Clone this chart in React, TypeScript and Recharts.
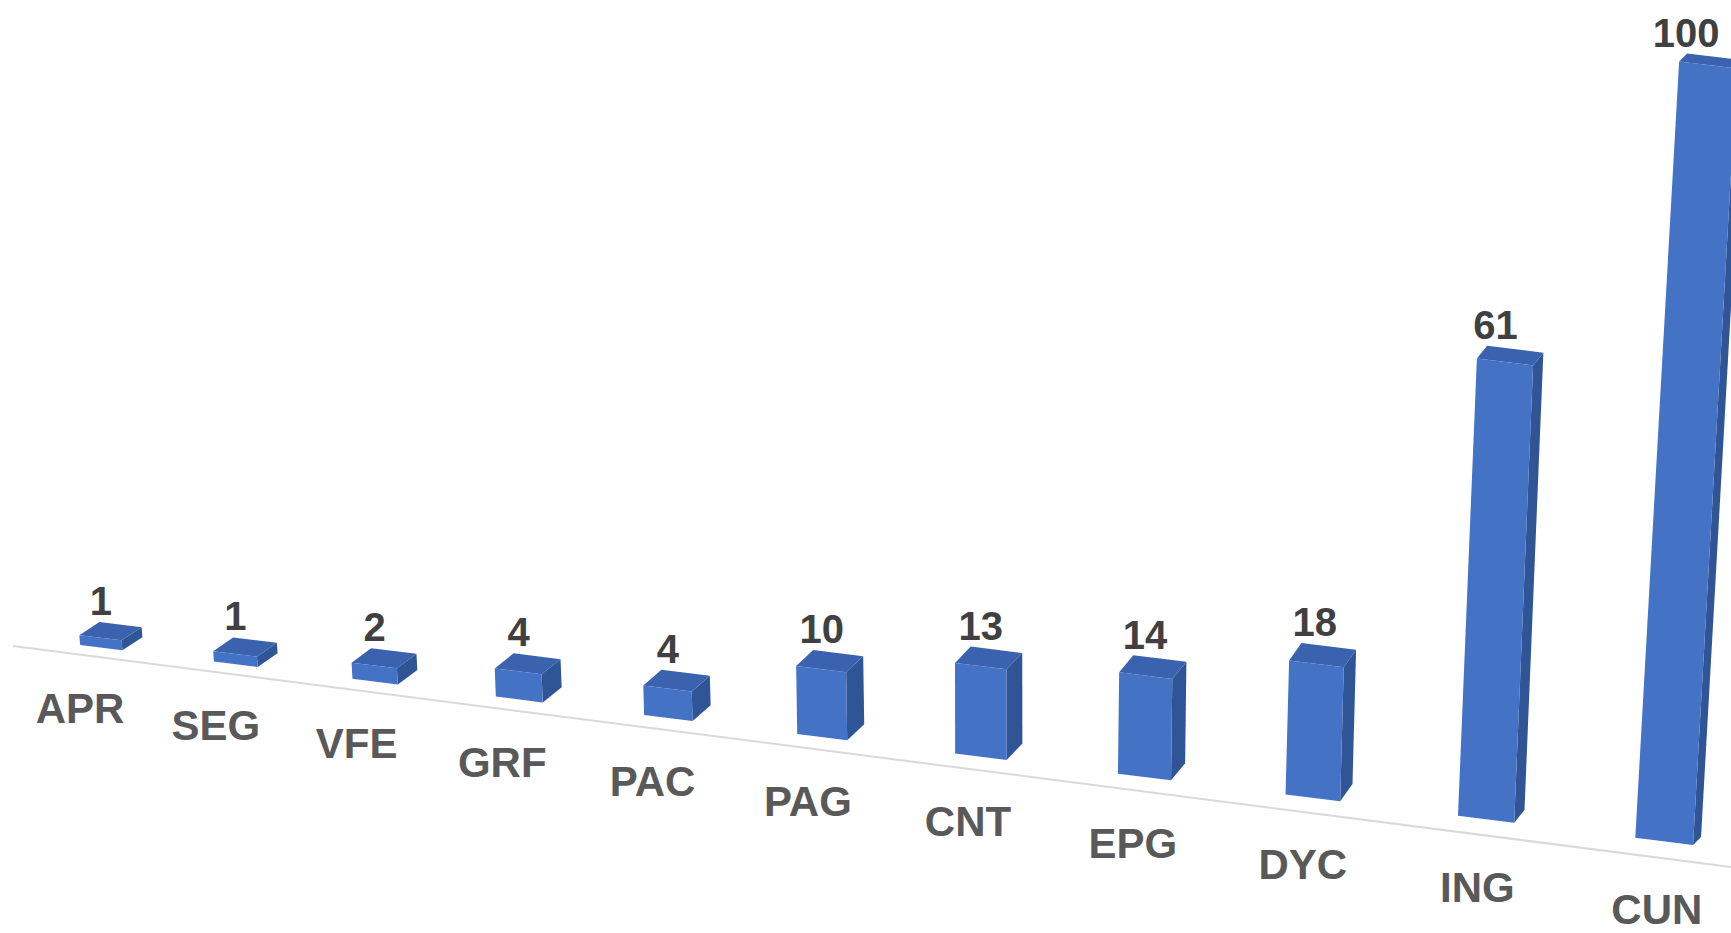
import React from 'react';
import { BarChart, Bar, XAxis, YAxis, LabelList, Customized } from 'recharts';

const categories = ['APR', 'SEG', 'VFE', 'GRF', 'PAC', 'PAG', 'CNT', 'EPG', 'DYC', 'ING', 'CUN'];
const values = [1, 1, 2, 4, 4, 10, 13, 14, 18, 61, 100];

const data = categories.map((name, i) => ({ name, value: values[i] }));

const CHART_W = 1731;
const CHART_H = 933;
const BAND = CHART_W / categories.length;
const FIRST = BAND / 2;
const LAST = CHART_W - BAND / 2;
const FONT = 'Arial, "Liberation Sans", sans-serif';

// fake perspective: bars to the right are nearer, so spaced wider and drawn larger
const project = (cx: number) => {
  const u = (cx - FIRST) / (LAST - FIRST);
  const X = 101 + 1320.8 * u + 242 * u * u;
  const k = (1320.8 + 484 * u) / 1562.8;
  return { u, X, k };
};

// where bars stand on the slanted floor
const floorY = (x: number) => 645 + 0.124 * (x - 80);

const boxGeom = (x: number, width: number, height: number) => {
  const { u, X, k } = project(x + width / 2);
  const w = width * k;
  const H = height * Math.pow(k, 1.5) + 6 * k;
  const xl = X - w / 2;
  const xr = X + w / 2;
  const ybl = floorY(xl);
  const ybr = floorY(xr);
  const tilt = H * (X - 1000) * 8.5e-5;
  const dx = 20 - 12 * u * u;
  const dy = -(6 + 0.015 * (ybl - H)) * k;
  return { u, X, k, H, xl, xr, ybl, ybr, tilt, dx, dy };
};

const pts = (p: number[][]) => p.map(([a, b]) => `${a},${b}`).join(' ');

const Box3D = (props: any) => {
  const { x, width, height } = props;
  if (height == null) return null;
  const g = boxGeom(x, width, height);
  const tl = [g.xl + g.tilt, g.ybl - g.H];
  const tr = [g.xr + g.tilt, g.ybr - g.H];
  const bl = [g.xl, g.ybl];
  const br = [g.xr, g.ybr];
  const top = pts([tl, tr, [tr[0] + g.dx, tr[1] + g.dy], [tl[0] + g.dx, tl[1] + g.dy]]);
  const side = pts([tr, [tr[0] + g.dx, tr[1] + g.dy], [br[0] + g.dx, br[1] + g.dy], br]);
  const front = pts([tl, tr, br, bl]);
  return (
    <g>
      <polygon points={side} fill="#2F5597" />
      <polygon points={top} fill="#3A62AE" />
      <polygon points={front} fill="#4472C4" />
    </g>
  );
};

const ValueLabel = (props: any) => {
  const { x, width, height, value } = props;
  const g = boxGeom(x, width, height);
  const cx = g.X + g.tilt / 2;
  const y = floorY(g.X) - g.H + g.dy - 10;
  return (
    <text x={cx} y={y} textAnchor="middle" fill="#404040" fontSize={40} fontWeight="bold" fontFamily={FONT}>
      {value}
    </text>
  );
};

const CategoryTick = (props: any) => {
  const { x, payload } = props;
  const { u, X } = project(x);
  const lx = X - 21 + 14 * u;
  const ly = floorY(X) + 75 + 8 * u;
  return (
    <text x={lx} y={ly} textAnchor="middle" fill="#595959" fontSize={42} fontWeight="bold" fontFamily={FONT}>
      {payload.value}
    </text>
  );
};

const FloorLine = () => (
  <line x1={13} y1={646} x2={CHART_W} y2={867} stroke="#D9D9D9" strokeWidth={2} />
);

export default function App() {
  return (
    <div style={{ position: 'absolute', left: 0, top: 0, background: '#fff' }}>
      <BarChart
        width={CHART_W}
        height={CHART_H}
        data={data}
        margin={{ top: 20, right: 0, left: 0, bottom: 263 }}
      >
        <Customized component={FloorLine} />
        <XAxis
          dataKey="name"
          axisLine={false}
          tickLine={false}
          interval={0}
          height={30}
          tick={<CategoryTick />}
        />
        <YAxis hide domain={[0, 100]} />
        <Bar dataKey="value" barSize={50} shape={<Box3D />} isAnimationActive={false}>
          <LabelList dataKey="value" content={<ValueLabel />} />
        </Bar>
      </BarChart>
    </div>
  );
}
